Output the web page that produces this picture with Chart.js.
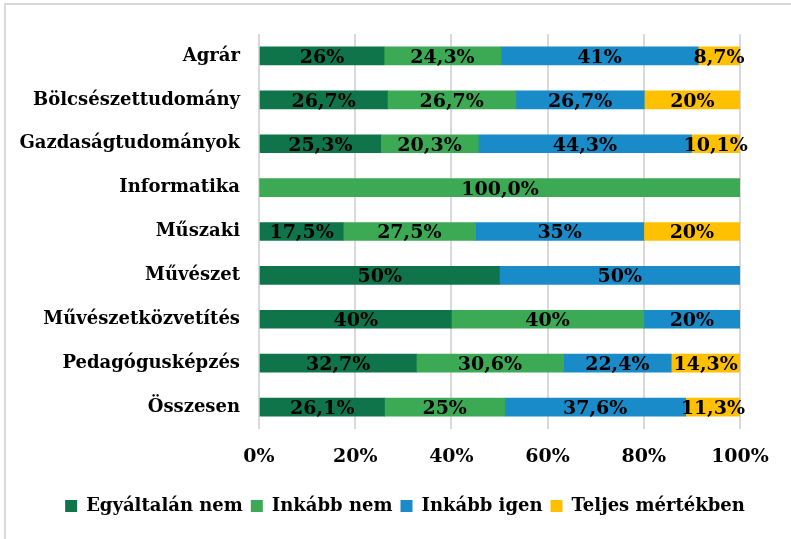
<!DOCTYPE html>
<html>
<head>
<meta charset="utf-8">
<script src="https://cdn.jsdelivr.net/npm/chart.js@4.4.1/dist/chart.umd.min.js"></script>
<style>
  html, body { margin: 0; padding: 0; background: #fff; }
  #wrap { width: 791px; height: 539px; position: relative; }
</style>
</head>
<body>
<div id="wrap"><canvas id="chart"></canvas></div>
<script>
const categories = ['Agrár', 'Bölcsészettudomány', 'Gazdaságtudományok', 'Informatika', 'Műszaki', 'Művészet', 'Művészetközvetítés', 'Pedagógusképzés', 'Összesen'];
const egyaltalanNem = [26, 26.7, 25.3, 0, 17.5, 50, 40, 32.7, 26.1];
const inkabbNem = [24.3, 26.7, 20.3, 100, 27.5, 0, 40, 30.6, 25];
const inkabbIgen = [41, 26.7, 44.3, 0, 35, 50, 20, 22.4, 37.6];
const teljesMertekben = [8.7, 20, 10.1, 0, 20, 0, 0, 14.3, 11.3];
const xTicks = [0, 20, 40, 60, 80, 100];

const FONT = 'DejaVu Serif';

function fmt(v) {
    if (v === 100) return '100,0%';
    return String(v).replace('.', ',') + '%';
}

// frame lines on left and top like the original
const framePlugin = {
    id: 'frame',
    beforeDraw(chart) {
        const ctx = chart.ctx;
        ctx.save();
        ctx.strokeStyle = '#d9d9d9';
        ctx.lineWidth = 2;
        ctx.beginPath();
        ctx.moveTo(5, chart.height);
        ctx.lineTo(5, 4);
        ctx.lineTo(chart.width, 4);
        ctx.stroke();
        ctx.restore();
    },
    // the legend in the original sits a bit right of the plot centre
    afterLayout(chart) {
        if (chart.legend) {
            chart.legend.left += 35;
            chart.legend.right += 35;
        }
    }
};

// value labels in the middle of each segment
const valueLabels = {
    id: 'valueLabels',
    afterDatasetsDraw(chart) {
        const ctx = chart.ctx;
        ctx.save();
        ctx.font = 'bold 19px "' + FONT + '"';
        ctx.fillStyle = '#000';
        ctx.textAlign = 'center';
        ctx.textBaseline = 'middle';
        chart.data.datasets.forEach((ds, i) => {
            chart.getDatasetMeta(i).data.forEach((bar, j) => {
                const v = ds.data[j];
                if (!v) return;
                const p = bar.getCenterPoint();
                ctx.fillText(fmt(v), p.x, p.y + 2);
            });
        });
        ctx.restore();
    }
};

const ctx = document.getElementById('chart').getContext('2d');
new Chart(ctx, {
    type: 'bar',
    data: {
        labels: categories,
        datasets: [
            { label: 'Egyáltalán nem', data: egyaltalanNem, backgroundColor: '#10744a' },
            { label: 'Inkább nem', data: inkabbNem, backgroundColor: '#3caa55' },
            { label: 'Inkább igen', data: inkabbIgen, backgroundColor: '#198bc9' },
            { label: 'Teljes mértékben', data: teljesMertekben, backgroundColor: '#ffc000' }
        ]
    },
    options: {
        indexAxis: 'y',
        responsive: true,
        maintainAspectRatio: false,
        animation: false,
        layout: { padding: { top: 34, right: 51, left: 0, bottom: 14 } },
        datasets: { bar: { barThickness: 18, borderWidth: 0 } },
        scales: {
            x: {
                stacked: true,
                min: 0,
                max: 100,
                afterBuildTicks: (scale) => { scale.ticks = xTicks.map(v => ({ value: v })); },
                afterFit: (scale) => { scale.height = 60; },
                grid: { color: '#d9d9d9', lineWidth: 2, drawTicks: false },
                border: { display: false },
                ticks: {
                    padding: 17,
                    color: '#000',
                    font: { family: FONT, size: 19, weight: 'bold' },
                    callback: (v) => v + '%'
                }
            },
            y: {
                stacked: true,
                afterFit: (scale) => { scale.width = 259; },
                grid: { display: false, drawTicks: false },
                border: { display: false },
                ticks: {
                    padding: 19,
                    color: '#000',
                    font: { family: FONT, size: 18, weight: 'bold' }
                }
            }
        },
        plugins: {
            legend: {
                position: 'bottom',
                labels: {
                    boxWidth: 12,
                    boxHeight: 12,
                    padding: 8,
                    color: '#000',
                    font: { family: FONT, size: 18, weight: 'bold' }
                }
            },
            tooltip: { enabled: false }
        }
    },
    plugins: [framePlugin, valueLabels]
});
</script>
</body>
</html>
